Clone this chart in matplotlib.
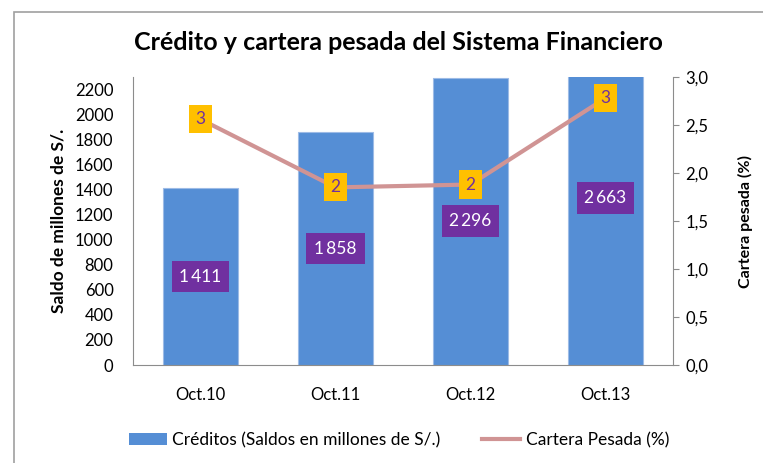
import numpy as np
import matplotlib
matplotlib.use("Agg")
import matplotlib.pyplot as plt
from matplotlib.patches import Rectangle
from matplotlib.lines import Line2D

plt.rcParams['font.family'] = ['Lato', 'DejaVu Sans']

# Data
periodos = ['Oct.10', 'Oct.11', 'Oct.12', 'Oct.13']
creditos = [1411, 1858, 2296, 2663]
cartera_pesada = [2.56, 1.85, 1.88, 2.78]

bar_color = '#558ED5'
line_color = '#D09494'
purple = '#7030A0'
yellow = '#FFC000'

fig = plt.figure(figsize=(7.63, 4.63), dpi=100)
ax = fig.add_axes([133 / 763, 1 - 365 / 463, 540 / 763, 288 / 463])

x = np.arange(len(periodos))
ax.bar(x, creditos, width=0.56, color=bar_color, edgecolor='#9DBBE6', linewidth=0.8, zorder=2)
ax.set_xlim(-0.5, len(periodos) - 0.5)
ax.set_ylim(0, 2300)
ax.set_yticks(np.arange(0, 2201, 200))
ax.tick_params(axis='y', length=0, labelsize=12, pad=14)
ax.tick_params(axis='x', length=0, labelsize=12, pad=16)
ax.set_xticks(x)
ax.set_xticklabels(periodos)
ax.set_ylabel('Saldo de millones de S/.', fontsize=12.5, fontweight='bold', labelpad=6)
for s in ['top', 'right']:
    ax.spines[s].set_visible(False)
for s in ['left', 'bottom']:
    ax.spines[s].set_color('#8C8C8C')

# bar labels (centered in the bar)
for xi, v in zip(x, creditos):
    lbl = f'{v:,}'.replace(',', '\u2009')
    ax.text(xi, v / 2, lbl, ha='center', va='center', color='white', fontsize=12.5,
            bbox=dict(boxstyle='square,pad=0.45', facecolor=purple, edgecolor='none'),
            zorder=5, family=['Lato', 'DejaVu Sans'])

# right axis
ax2 = ax.twinx()
ax2.plot(x, cartera_pesada, color=line_color, linewidth=3, zorder=3)
ax2.set_ylim(0, 3.0)
ax2.set_yticks(np.arange(0, 3.01, 0.5))
ax2.set_yticklabels([f'{t:.1f}'.replace('.', ',') for t in np.arange(0, 3.01, 0.5)])
ax2.tick_params(axis='y', length=4, color='#8C8C8C', labelsize=12, pad=5)
ax2.set_ylabel('Cartera pesada (%)', fontsize=11.5, fontweight='bold', labelpad=21)
for s in ['top', 'left', 'bottom']:
    ax2.spines[s].set_visible(False)
ax2.spines['right'].set_color('#8C8C8C')

for xi, v in zip(x, cartera_pesada):
    ax2.text(xi, v, f'{round(v):d}', ha='center', va='center', color=purple, fontsize=12.5,
             bbox=dict(boxstyle='square,pad=0.35', facecolor=yellow, edgecolor='none'), zorder=6)

# title
fig.text(398 / 763, 1 - 42 / 463, 'Crédito y cartera pesada del Sistema Financiero',
         ha='center', va='center', fontsize=18, fontweight='bold')

# legend
handles = [Rectangle((0, 0), 1, 1, facecolor=bar_color, edgecolor='none'),
           Line2D([0], [0], color=line_color, linewidth=3)]
fig.legend(handles, ['Créditos (Saldos en millones de S/.)', 'Cartera Pesada (%)'],
           loc='center', bbox_to_anchor=(399 / 763, 1 - 440 / 463), ncol=2, frameon=False,
           fontsize=12.5, handlelength=2.2, handletextpad=0.3, columnspacing=2.4)

# outer chart frame
fig.patches.append(Rectangle((14 / 763, -0.1), 1.1, 1 - 12 / 463 + 0.1, transform=fig.transFigure,
                             facecolor='none', edgecolor='#A0A0A0', linewidth=1.2))

fig.savefig('out.png', dpi=100)
